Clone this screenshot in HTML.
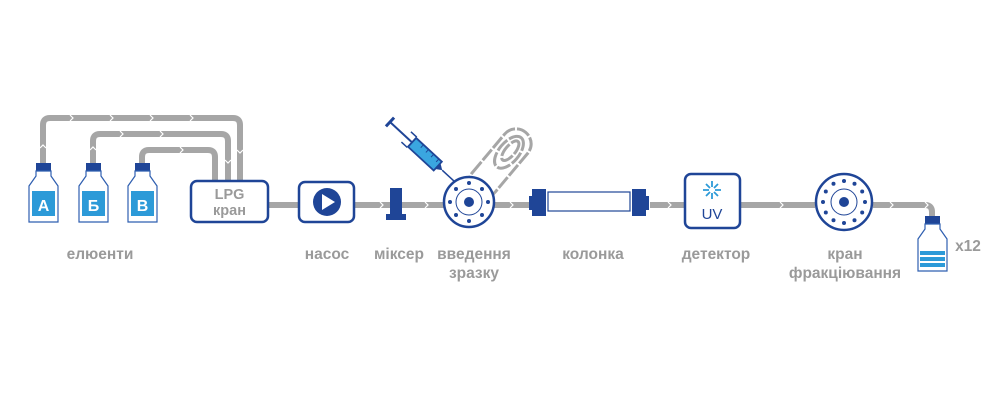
<!DOCTYPE html>
<html><head><meta charset="utf-8"><style>
html,body{margin:0;padding:0;background:#fff;}
svg{display:block;}
text{font-family:"Liberation Sans",Arial,sans-serif;font-weight:bold;fill:#9a9a9a;font-size:15.5px;}
</style></head><body>
<svg width="1000" height="400" viewBox="0 0 1000 400">
<g fill="none" stroke="#a6a6a6" stroke-width="6" stroke-linejoin="round">
<path d="M43 163 V125 Q43 118 50 118 H233 Q240 118 240 125 V181"/>
<path d="M93 163 V141 Q93 134 100 134 H221 Q228 134 228 141 V181"/>
<path d="M142 163 V157 Q142 150 149 150 H208 Q215 150 215 157 V181"/>
<path d="M268 205 H298 M354 205 H530 M650 205 H684 M740 205 H815 M873 205 H925 Q932 205 932 212 V216"/>
</g>
<g fill="none" stroke="#fff" stroke-width="1.2">
<path d="M40 148 l3 -3 l3 3 M70 115 l3 3 l-3 3 M110 115 l3 3 l-3 3 M150 115 l3 3 l-3 3 M190 115 l3 3 l-3 3 M237 150 l3 3 l3 -3"/>
<path d="M120 131 l3 3 l-3 3 M160 131 l3 3 l-3 3 M225 160 l3 3 l3 -3 M180 147 l3 3 l-3 3 M90 150 l3 -3 l3 3"/>
<path d="M380 202 l3 3 l-3 3 M425 202 l3 3 l-3 3 M510 202 l3 3 l-3 3 M668 202 l3 3 l-3 3 M780 202 l3 3 l-3 3 M890 202 l3 3 l-3 3 M925 202 l3 3 l-3 3"/>
</g>
<rect x="36" y="163" width="15" height="8" fill="#1f4597"/>
<path d="M36 171 H51 V176 L58 186 V222 H29 V186 L36 176 Z" fill="#fff" stroke="#2f5fb0" stroke-width="1.2"/>
<rect x="32" y="191" width="23" height="25" fill="#2c9ad8"/>
<text x="43.5" y="211" text-anchor="middle" style="fill:#fff;font-size:16px">А</text>
<rect x="86" y="163" width="15" height="8" fill="#1f4597"/>
<path d="M86 171 H101 V176 L108 186 V222 H79 V186 L86 176 Z" fill="#fff" stroke="#2f5fb0" stroke-width="1.2"/>
<rect x="82" y="191" width="23" height="25" fill="#2c9ad8"/>
<text x="93.5" y="211" text-anchor="middle" style="fill:#fff;font-size:16px">Б</text>
<rect x="135" y="163" width="15" height="8" fill="#1f4597"/>
<path d="M135 171 H150 V176 L157 186 V222 H128 V186 L135 176 Z" fill="#fff" stroke="#2f5fb0" stroke-width="1.2"/>
<rect x="131" y="191" width="23" height="25" fill="#2c9ad8"/>
<text x="142.5" y="211" text-anchor="middle" style="fill:#fff;font-size:16px">В</text>
<rect x="191" y="181" width="77" height="41" rx="6" fill="#fff" stroke="#1f4597" stroke-width="2.5"/>
<text x="229.5" y="199" text-anchor="middle" style="font-size:14.5px">LPG</text>
<text x="229.5" y="215" text-anchor="middle" style="font-size:14.5px">кран</text>
<rect x="299" y="182" width="55" height="40" rx="6" fill="#fff" stroke="#1f4597" stroke-width="2.5"/>
<circle cx="327" cy="202" r="14" fill="#1f4597"/>
<path d="M322 194 L335 202 L322 210 Z" fill="#fff"/>
<path d="M390 188 H402 V214 H406 V220 H386 V214 H390 Z" fill="#1f4597"/>
<g transform="translate(500,163) rotate(-50)" fill="none" stroke="#a6a6a6" stroke-width="3" stroke-dasharray="14 2">
<rect x="-40" y="-15" width="80" height="30" rx="15"/>
<ellipse cx="14" cy="0" rx="19" ry="10"/>
<ellipse cx="16" cy="0" rx="12" ry="5"/>
</g>
<circle cx="469" cy="202" r="25" fill="#fff" stroke="#1f4597" stroke-width="2.5"/>
<circle cx="469" cy="202" r="13" fill="none" stroke="#1f4597" stroke-width="1"/>
<circle cx="469" cy="202" r="5" fill="#1f4597"/>
<g fill="#1f4597">
<circle cx="469" cy="183" r="2"/><circle cx="469" cy="221" r="2"/><circle cx="450" cy="202" r="2"/><circle cx="488" cy="202" r="2"/>
<circle cx="482" cy="189" r="2"/><circle cx="456" cy="189" r="2"/><circle cx="482" cy="215" r="2"/><circle cx="456" cy="215" r="2"/>
</g>
<g transform="translate(390,122) rotate(42.7)">
<line x1="0" y1="-6" x2="0" y2="6" stroke="#1f4597" stroke-width="3"/>
<line x1="0" y1="0" x2="30" y2="0" stroke="#1f4597" stroke-width="2"/>
<path d="M22 -7 L30 -7 M22 7 L30 7" stroke="#1f4597" stroke-width="1.5"/>
<rect x="30" y="-6" width="35" height="12" fill="#3aa6e0" stroke="#1f4597" stroke-width="1.8"/>
<path d="M40 -6 v4 M47 -6 v4 M54 -6 v4 M61 -6 v4" stroke="#1f4597" stroke-width="1"/>
<path d="M65 -4 L71 0 L65 4" fill="#1f4597"/>
<line x1="71" y1="0" x2="88" y2="0" stroke="#1f4597" stroke-width="1.5"/>
</g>
<rect x="548" y="192" width="82" height="19" fill="#fff" stroke="#1f4597" stroke-width="1.2"/>
<path d="M532 189 H546 V216 H532 V210 H529 V196 H532 Z" fill="#1f4597"/>
<path d="M632 189 H646 V196 H649 V210 H646 V216 H632 Z" fill="#1f4597"/>
<rect x="685" y="174" width="55" height="54" rx="6" fill="#fff" stroke="#1f4597" stroke-width="2.5"/>
<g stroke="#2c9ad8" stroke-width="1.8" transform="translate(712,190)">
<path d="M0 -9 V-3 M0 3 V9 M-9 0 H-3 M3 0 H9 M-6 -6 L-2 -2 M2 2 L6 6 M6 -6 L2 -2 M-2 2 L-6 6"/>
</g>
<text x="712" y="219" text-anchor="middle" style="fill:#1f4597;font-weight:normal;font-size:15px">UV</text>
<circle cx="844" cy="202" r="28" fill="#fff" stroke="#1f4597" stroke-width="2.5"/>
<circle cx="844" cy="202" r="13" fill="none" stroke="#1f4597" stroke-width="1"/>
<circle cx="844" cy="202" r="5" fill="#1f4597"/>
<g fill="#1f4597" transform="translate(844,202)">
<circle cx="0" cy="-21" r="2"/><circle cx="10.5" cy="-18.2" r="2"/><circle cx="18.2" cy="-10.5" r="2"/><circle cx="21" cy="0" r="2"/><circle cx="18.2" cy="10.5" r="2"/><circle cx="10.5" cy="18.2" r="2"/><circle cx="0" cy="21" r="2"/><circle cx="-10.5" cy="18.2" r="2"/><circle cx="-18.2" cy="10.5" r="2"/><circle cx="-21" cy="0" r="2"/><circle cx="-18.2" cy="-10.5" r="2"/><circle cx="-10.5" cy="-18.2" r="2"/>
</g>
<rect x="925" y="216" width="15" height="8" fill="#1f4597"/>
<path d="M925 224 H940 V229 L947 239 V271 H918 V239 L925 229 Z" fill="#fff" stroke="#2f5fb0" stroke-width="1.2"/>
<rect x="920" y="251" width="25" height="4" fill="#2c9ad8"/>
<rect x="920" y="257" width="25" height="4" fill="#2c9ad8"/>
<rect x="920" y="263" width="25" height="4" fill="#2c9ad8"/>
<text x="100" y="259" text-anchor="middle">елюенти</text>
<text x="327" y="259" text-anchor="middle">насос</text>
<text x="399" y="259" text-anchor="middle">міксер</text>
<text x="474" y="259" text-anchor="middle">введення</text>
<text x="474" y="278" text-anchor="middle">зразку</text>
<text x="593" y="259" text-anchor="middle">колонка</text>
<text x="716" y="259" text-anchor="middle">детектор</text>
<text x="845" y="259" text-anchor="middle">кран</text>
<text x="845" y="278" text-anchor="middle">фракціювання</text>
<text x="968" y="251" text-anchor="middle">x12</text>
</svg>
</body></html>
